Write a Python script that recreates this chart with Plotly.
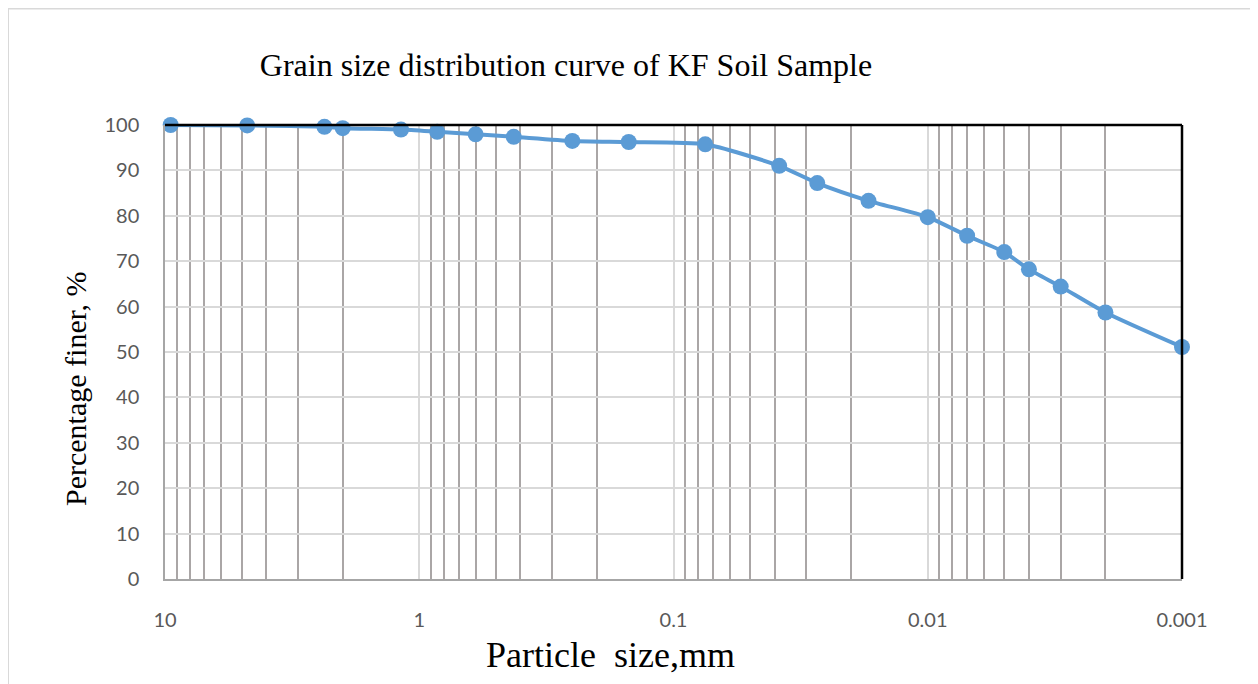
import plotly.graph_objects as go

# Data
particle_size_mm = [9.5, 4.75, 2.36, 2.0, 1.18, 0.85, 0.6, 0.425, 0.25, 0.15, 0.075,
                    0.0384, 0.0272, 0.0171, 0.0100, 0.0070, 0.0050, 0.0040, 0.0030, 0.0020, 0.0010]
percent_finer = [100.0, 99.9, 99.6, 99.3, 99.0, 98.5, 97.95, 97.4, 96.5, 96.25, 95.75,
                 91.0, 87.2, 83.3, 79.7, 75.6, 72.0, 68.2, 64.4, 58.7, 51.1]

x_tickvals = [10, 1, 0.1, 0.01, 0.001]
x_ticktext = ["10", "1", "0.1", "0.01", "0.001"]
y_tickvals = list(range(0, 101, 10))

title_text = "Grain size distribution curve of KF Soil Sample"
x_title = "Particle\u00a0 size,mm"
y_title = "Percentage finer, %"

# page has an 8px body margin; work in page pixels and shift
OFF = 8
W, H = 1258 - OFF, 684 - OFF
L, R, T, B = 165 - OFF, 1182 - OFF, 125 - OFF, 579 - OFF
pw, ph = R - L, B - T

def px_to_paper_x(px):
    return (px - OFF - L) / pw

def px_to_paper_y(py):
    return (B - (py - OFF)) / ph

fig = go.Figure()
fig.add_trace(go.Scatter(
    x=particle_size_mm, y=percent_finer,
    mode="lines+markers",
    line=dict(color="#5b9bd5", width=4, shape="spline", smoothing=0.6),
    marker=dict(color="#5b9bd5", size=16),
    cliponaxis=False,
    showlegend=False,
))

tick_font = dict(family="Lato, 'Open Sans', sans-serif", size=20, color="#595959")
serif = "'Liberation Serif', 'Times New Roman', serif"

fig.update_layout(
    width=W, height=H,
    margin=dict(l=L, r=W - R, t=T, b=H - B),
    paper_bgcolor="white", plot_bgcolor="white",
    title=dict(text=title_text, x=(566 - OFF) / W, xref="container", xanchor="center",
               y=1 - (65 - OFF) / H, yref="container", yanchor="middle",
               font=dict(family=serif, size=32, color="black")),
    xaxis=dict(
        type="log", range=[1, -3],
        tickvals=x_tickvals, ticktext=x_ticktext,
        tickfont=tick_font, ticklabelstandoff=22,
        showgrid=True, gridcolor="#d9d9d9", gridwidth=1.5,
        minor=dict(dtick="D1", showgrid=True, gridcolor="#aaa6a6", gridwidth=1.5, ticks=""),
        showline=True, linecolor="#a6a6a6", linewidth=2,
        zeroline=False, ticks="",
    ),
    yaxis=dict(
        range=[0, 100], tickvals=y_tickvals,
        tickfont=tick_font, ticklabelstandoff=20,
        showgrid=True, gridcolor="#d9d9d9", gridwidth=1.5,
        showline=True, linecolor="#a6a6a6", linewidth=1.5,
        zeroline=False, ticks="",
    ),
    annotations=[
        dict(text=x_title, xref="paper", yref="paper",
             x=px_to_paper_x(610), y=px_to_paper_y(655),
             xanchor="center", yanchor="middle", showarrow=False,
             font=dict(family=serif, size=36, color="black")),
        dict(text=y_title, xref="paper", yref="paper",
             x=px_to_paper_x(75), y=px_to_paper_y(389),
             xanchor="center", yanchor="middle", showarrow=False, textangle=-90,
             font=dict(family=serif, size=30, color="black")),
    ],
    shapes=[
        # black top and right frame lines
        dict(type="line", xref="paper", yref="paper", x0=0, x1=1, y0=1, y1=1,
             line=dict(color="black", width=2.5), layer="above"),
        dict(type="line", xref="paper", yref="paper", x0=1, x1=1, y0=0, y1=1,
             line=dict(color="black", width=2.5), layer="above"),
        # outer chart border
        dict(type="rect", xref="paper", yref="paper",
             x0=px_to_paper_x(8), x1=px_to_paper_x(1270),
             y0=px_to_paper_y(700), y1=px_to_paper_y(8.5),
             line=dict(color="#d9d9d9", width=2), layer="below"),
    ],
)

fig.write_html("out.html")
